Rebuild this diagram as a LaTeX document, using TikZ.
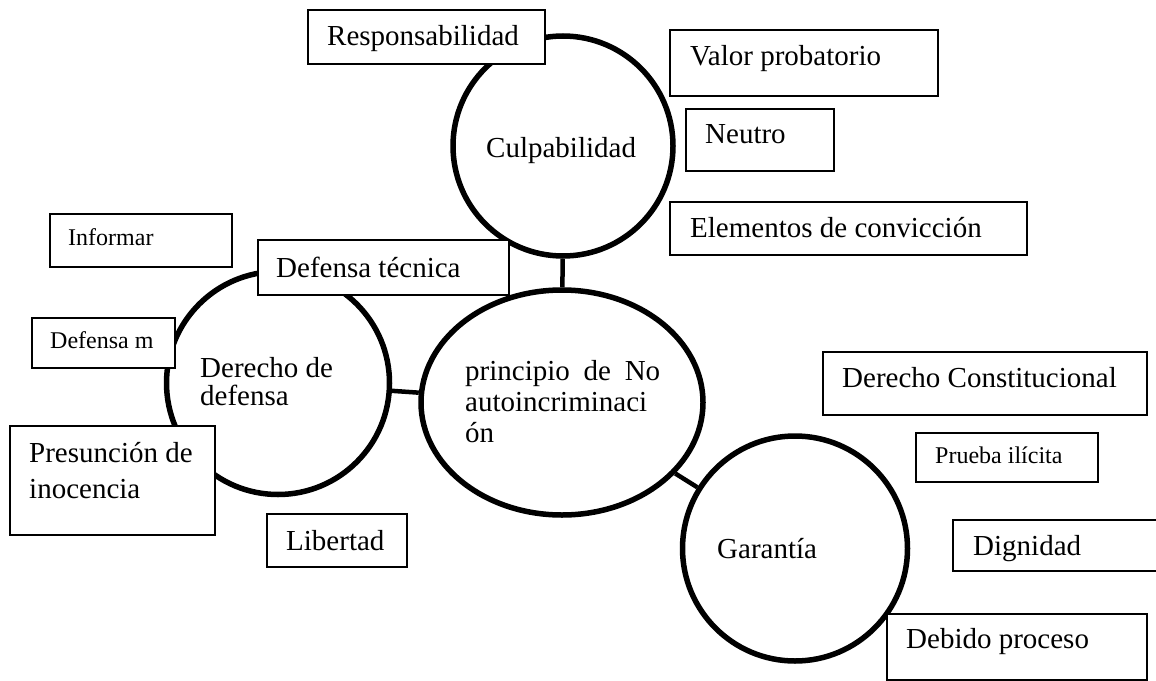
\documentclass[tikz,border=0pt]{standalone}
\usepackage{fontspec}
\setmainfont{Liberation Serif}
\usetikzlibrary{shapes.geometric}
\begin{document}
\begin{tikzpicture}[x=1pt,y=-1pt,
  circ/.style={draw, line width=5.5pt, circle, inner sep=0pt},
  oval/.style={draw, line width=5.5pt, ellipse, inner sep=0pt},
  conn/.style={draw, line width=4.5pt},
  box/.style={draw, line width=1.5pt, fill=white, rectangle, inner sep=0pt, anchor=north west},
  big/.style={anchor=base west, inner sep=0pt, font=\fontsize{29}{31}\selectfont},
  small/.style={anchor=base west, inner sep=0pt, font=\fontsize{24}{28}\selectfont}]
\useasboundingbox (0,0) rectangle (1156,680);
\fill[white] (0,0) rectangle (1156,680);

% circles
\node[circ, minimum size=220pt] (culp) at (563,146) {};
\node[oval, minimum width=282pt, minimum height=225pt] (princ) at (562,402.5) {};
\node[circ, minimum size=223pt] (derecho) at (278,383) {};
\node[circ, minimum size=225pt] (garantia) at (795,548.5) {};

% connectors
\draw[conn] (culp) -- (princ);
\draw[conn] (derecho) -- (princ);
\draw[conn] (princ) -- (garantia);

% circle labels
\node[big] (culp-t) at (486,157) {Culpabilidad};
\node[big] (derecho-t) at (200,377) {\vtop{\baselineskip=28pt\hbox{Derecho de}\hbox{defensa}}};
\node[big] (princ-t) at (465,380) {\vtop{\baselineskip=31pt\hbox to 195pt{principio\hfil de\hfil No}\hbox{autoincriminaci}\hbox{ón}}};
\node[big] (garantia-t) at (717,558) {Garantía};

% boxes
\node[box, minimum width=237pt, minimum height=54pt] (resp) at (307,9) {};
\node[box, minimum width=268pt, minimum height=66pt] (valor) at (669,29) {};
\node[box, minimum width=148pt, minimum height=62pt] (neutro) at (685,108) {};
\node[box, minimum width=357pt, minimum height=53pt] (elem) at (669,201) {};
\node[box, minimum width=182pt, minimum height=53pt] (informar) at (49,213) {};
\node[box, minimum width=251pt, minimum height=55pt] (deftec) at (257,239) {};
\node[box, minimum width=143pt, minimum height=50pt] (defm) at (31,317) {};
\node[box, minimum width=205pt, minimum height=109pt] (presun) at (9,425) {};
\node[box, minimum width=140pt, minimum height=53pt] (libertad) at (266,513) {};
\node[box, minimum width=324pt, minimum height=63pt] (dercons) at (822,351) {};
\node[box, minimum width=182pt, minimum height=49pt] (prueba) at (915,432) {};
\node[box, minimum width=218pt, minimum height=51pt] (dignidad) at (952,519) {};
\node[box, minimum width=260pt, minimum height=66pt] (debido) at (886,613) {};

% box labels
\node[big] (resp-t) at (327,45) {Responsabilidad};
\node[big] (valor-t) at (690,65) {Valor probatorio};
\node[big] (neutro-t) at (705,143) {Neutro};
\node[big] (elem-t) at (690,237) {Elementos de convicción};
\node[small] (informar-t) at (68,245) {Informar};
\node[big] (deftec-t) at (276,277) {Defensa técnica};
\node[small] (defm-t) at (50,348) {Defensa m};
\node[big] (presun-t) at (29,462) {\vtop{\baselineskip=36pt\hbox{Presunción de}\hbox{inocencia}}};
\node[big] (libertad-t) at (286,550) {Libertad};
\node[big] (dercons-t) at (842,387) {Derecho Constitucional};
\node[small] (prueba-t) at (935,463) {Prueba ilícita};
\node[big] (dignidad-t) at (973,555) {Dignidad};
\node[big] (debido-t) at (906,648) {Debido proceso};
\end{tikzpicture}
\end{document}
